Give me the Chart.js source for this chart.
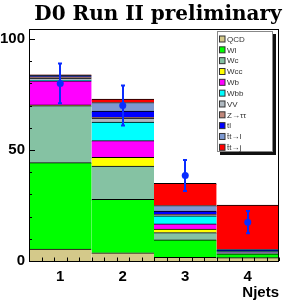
<!DOCTYPE html>
<html>
<head>
<meta charset="utf-8">
<script src="https://cdn.jsdelivr.net/npm/chart.js@4/dist/chart.umd.min.js"></script>
<style>
html,body{margin:0;padding:0;background:#fff;}
#wrap{width:288px;height:305px;position:relative;}
</style>
</head>
<body>
<div id="wrap"><canvas id="c" width="288" height="305"></canvas></div>
<script>
// ---- data ----
const categories = ['1', '2', '3', '4'];
const qcd = [5.4, 3.7, 1.7, 1.5];
const wl  = [38.9, 24.1, 7.8, 1.7];
const wc  = [25.7, 15.0, 3.3, 0.3];
const wcc = [0.3, 3.9, 1.6, 0.1];
const wb  = [10.9, 7.5, 2.3, 0.2];
const wbb = [0.2, 8.4, 3.7, 0.4];
const vv  = [1.0, 1.8, 0.4, 0.1];
const ztt = [0.4, 0.3, 0.2, 0.1];
const tl  = [0.3, 2.8, 1.5, 0.4];
const ttl = [0.5, 3.9, 2.5, 0.5];
const ttj = [0.3, 1.5, 10.0, 19.9];
const dataVals = [80, 70, 38.5, 17.5];
const dataErrs = [9, 9, 7, 5];
const yTickValues = [0, 50, 100];
const titleText = 'D0 Run II preliminary';
const xAxisTitle = 'Njets';

const series = [
  ['QCD', qcd, '#d4c98a'],
  ['Wl', wl, '#00ff00'],
  ['Wc', wc, '#85c2a3'],
  ['Wcc', wcc, '#ffff00'],
  ['Wb', wb, '#ff00ff'],
  ['Wbb', wbb, '#00ffff'],
  ['VV', vv, '#aeb8c0'],
  ['Z\u2192\u03c4\u03c4', ztt, '#c0877a'],
  ['tl', tl, '#0000ff'],
  ['t\u0304t\u2192l', ttl, '#7d99d1'],
  ['t\u0304t\u2192j', ttj, '#ff0000']
];

const datasets = series.map(([label, vals, col]) => ({
  type: 'bar', label, data: vals, backgroundColor: col,
  borderColor: '#000', borderWidth: {top: 1, left: 0, right: 0, bottom: 0},
  borderSkipped: false, stack: 'mc', order: 1,
  categoryPercentage: 1.0, barPercentage: 1.0
}));
datasets.push({
  type: 'line', label: 'data', data: dataVals, errors: dataErrs, showLine: false,
  pointRadius: 3.5, pointBackgroundColor: '#0a2cff', pointBorderColor: '#0a2cff',
  pointBorderWidth: 0, stack: 'data', order: 0, isData: true
});

const decor = {
  id: 'decor',
  afterDatasetsDraw(chart) {
    const ctx = chart.ctx, xs = chart.scales.x, ys = chart.scales.y, a = chart.chartArea;
    ctx.save();
    // error bars
    chart.data.datasets.forEach((ds) => {
      if (!ds.isData) return;
      ctx.strokeStyle = '#0a2cff'; ctx.lineWidth = 2;
      ds.data.forEach((v, i) => {
        const x = Math.round(xs.getPixelForValue(i));
        const y1 = ys.getPixelForValue(v - ds.errors[i]);
        const y2 = ys.getPixelForValue(v + ds.errors[i]);
        ctx.beginPath();
        ctx.moveTo(x, y1); ctx.lineTo(x, y2);
        ctx.moveTo(x - 2, y1); ctx.lineTo(x + 2, y1);
        ctx.moveTo(x - 2, y2); ctx.lineTo(x + 2, y2);
        ctx.stroke();
      });
    });
    // ticks (inside)
    ctx.strokeStyle = '#000'; ctx.lineWidth = 1;
    ctx.beginPath();
    for (let v = 0; v <= ys.max + 1e-6; v += 10) {
      const y = Math.round(ys.getPixelForValue(v)) + 0.5;
      const len = (v % 50 === 0) ? 6 : 3;
      ctx.moveTo(a.left, y); ctx.lineTo(a.left + len, y);
    }
    for (let k = 0; k <= 20; k++) {
      const v = -0.5 + k * 0.2;
      const x = Math.round(xs.getPixelForValue(v)) + 0.5;
      const major = Math.abs(v - Math.round(v)) < 1e-6;
      const len = major ? 7 : 3.5;
      ctx.moveTo(x, a.bottom); ctx.lineTo(x, a.bottom - len);
    }
    ctx.stroke();
    // frame
    ctx.strokeRect(a.left + 0.5, a.top + 0.5, a.right - a.left - 1, a.bottom - a.top);
    // legend
    const lx = 217, ly = 31, lw = 56, lh = 121;
    ctx.fillStyle = '#111';
    ctx.fillRect(lx + 3, ly + 3, lw, lh);
    ctx.fillStyle = '#fff';
    ctx.fillRect(lx, ly, lw, lh);
    ctx.strokeStyle = '#888';
    ctx.strokeRect(lx + 0.5, ly + 0.5, lw - 1, lh - 1);
    ctx.font = '8px "Liberation Sans", Arial, sans-serif';
    ctx.textBaseline = 'middle'; ctx.textAlign = 'left';
    const bars = chart.data.datasets.filter(d => !d.isData);
    bars.forEach((d, i) => {
      const cy = 39 + i * 10.83;
      ctx.fillStyle = d.backgroundColor;
      ctx.fillRect(219.5, cy - 3, 5.5, 6);
      ctx.strokeStyle = '#333';
      ctx.strokeRect(219.5, cy - 3, 5.5, 6);
      ctx.fillStyle = '#333';
      ctx.fillText(d.label, 227, cy + 0.5);
    });
    // title
    ctx.fillStyle = '#000';
    ctx.font = 'bold 20px "DejaVu Serif", serif';
    ctx.textAlign = 'center'; ctx.textBaseline = 'alphabetic';
    ctx.fillText(titleText, 158, 20);
    ctx.restore();
  }
};

new Chart(document.getElementById('c'), {
  data: { labels: categories, datasets },
  options: {
    responsive: false, animation: false,
    layout: { padding: { top: 29, right: 9, left: 0, bottom: 0 } },
    plugins: { legend: { display: false }, title: { display: false }, tooltip: { enabled: false } },
    scales: {
      x: {
        stacked: true, offset: true,
        grid: { display: false, drawTicks: false },
        border: { display: false },
        ticks: { color: '#000', padding: 7, font: { family: '"Liberation Sans", Arial', weight: 'bold', size: 15 } },
        title: { display: true, text: xAxisTitle, align: 'end', color: '#000', padding: { top: 0, bottom: 3 },
                 font: { family: '"Liberation Sans", Arial', weight: 'bold', size: 15 } },
        afterFit(s) { s.height = 44; }
      },
      y: {
        stacked: true, min: 0, max: 104.5,
        grid: { display: false, drawTicks: false },
        border: { display: false },
        afterBuildTicks(s) { s.ticks = yTickValues.map(v => ({ value: v })); },
        ticks: { color: '#000', padding: 4, font: { family: '"Liberation Sans", Arial', weight: 'bold', size: 15 } },
        afterFit(s) { s.width = 29; }
      }
    }
  },
  plugins: [decor]
});
</script>
</body>
</html>
